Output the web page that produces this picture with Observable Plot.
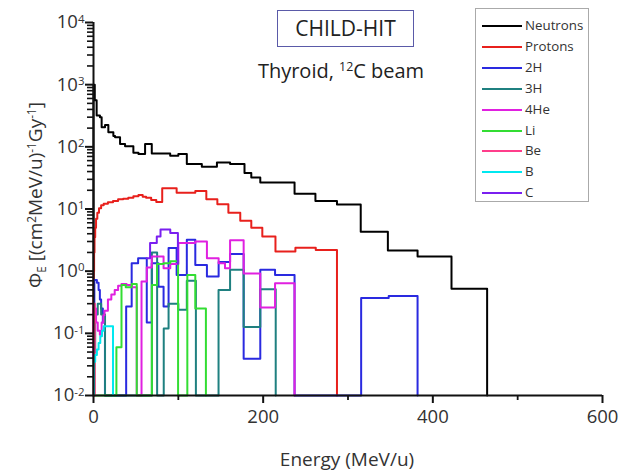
<!DOCTYPE html>
<html>
<head>
<meta charset="utf-8">
<script src="https://cdn.jsdelivr.net/npm/d3@7"></script>
<script src="https://cdn.jsdelivr.net/npm/@observablehq/plot@0.6"></script>
<style>
  html, body { margin: 0; padding: 0; background: #fff; }
  #wrap { position: relative; width: 628px; height: 472px; font-family: "Open Sans", sans-serif; color: #333; }
  #chart svg { display: block; }
  .ov { position: absolute; white-space: nowrap; }
  #titlebox { left: 277px; top: 10px; width: 135px; height: 35px; border: 1.5px solid #5a5aa8; font-size: 21px; line-height: 35px; text-align: center; color: #222; }
  #subtitle { left: 226px; top: 58px; width: 230px; text-align: center; font-size: 20px; line-height: 26px; color: #222; }
  #subtitle sup { font-size: 0.62em; vertical-align: 0.55em; line-height: 0; }
  #legend { left: 475px; top: 8px; width: 112px; height: 192px; border: 1px solid #aaa; background: #fff; }
  .lrow { position: absolute; left: 0; height: 16px; }
  .lline { position: absolute; left: 6px; width: 40px; height: 0; border-top: 2px solid #000; top: 8px; }
  .ltext { position: absolute; left: 49px; top: 0; font-size: 13.3px; line-height: 16px; color: #333; }
  #ylabel { left: 35px; top: 195px; transform: translate(-50%, -50%) rotate(-90deg); font-size: 19px; color: #333; }
  #ylabel sub { font-size: 0.62em; vertical-align: -0.3em; line-height: 0; }
  #ylabel sup { font-size: 0.62em; vertical-align: 0.55em; line-height: 0; }
  #xlabel { left: 247px; width: 200px; text-align: center; top: 446px; font-size: 19px; line-height: 26px; color: #333; }
</style>
</head>
<body>
<div id="wrap">
  <div id="chart"></div>
  <div id="titlebox" class="ov">CHILD-HIT</div>
  <div id="subtitle" class="ov">Thyroid, <sup>12</sup>C beam</div>
  <div id="legend" class="ov"></div>
  <div id="ylabel" class="ov">Φ<sub>E</sub> [(cm<sup>2</sup>MeV/u)<sup>-1</sup>Gy<sup>-1</sup>]</div>
  <div id="xlabel" class="ov">Energy (MeV/u)</div>
</div>
<script>
// ---- data (bin start energy in MeV/u, fluence value; step-after histograms) ----
const seriesNames = ["Neutrons", "Protons", "2H", "3H", "4He", "Li", "Be", "B", "C"];
const seriesColors = ["#000000", "#e8201c", "#2a2ae0", "#1f8080", "#e020e0", "#33dd33", "#ff3d8b", "#00e8f0", "#7a1ff0"];

const neutronsE = [0, 0, 1.5, 3.7, 7.6, 9.6, 13.6, 17.5, 23.4, 25.4, 31.3, 37.2, 47, 53, 60.8, 68.7, 90.4, 100, 110, 127.7, 145.5, 161, 178, 186, 196.6, 237, 261.6, 287, 315, 347, 382, 422, 464];
const neutronsV = [0.01, 1000, 560, 320, 300, 207, 225, 172, 150, 143, 111, 102, 80, 77, 111, 78, 72, 77, 53, 48, 56, 53, 38, 32, 26.6, 17.6, 13.4, 11.8, 4.3, 2.15, 1.72, 0.52, 0.01];

const protonsE = [0, 0, 0.3, 0.7, 1.2, 2, 3, 4.5, 6.5, 9, 12, 17, 23, 29, 35, 41, 47, 53, 58, 62, 68, 74, 81, 98, 120, 133, 146, 159, 173, 186, 199, 214.5, 238, 262, 287];
const protonsV = [0.01, 0.4, 1.0, 2.0, 3.5, 5.0, 7.0, 8.7, 10.3, 11.5, 12.2, 12.8, 13.5, 14.3, 14.6, 15.2, 16.0, 16.8, 15.8, 15.2, 14.0, 13.0, 21.6, 18.3, 19.5, 14.3, 11.9, 8.7, 6.5, 5.0, 3.6, 2.08, 2.38, 2.2, 0.01];

const h2E = [0, 0, 1, 4, 6, 7.5, 9, 11, 13.5, 38.5, 45, 52.6, 62.8, 68.7, 76.6, 82.6, 88.5, 98, 110, 120, 133.7, 147.5, 161, 177, 196.6, 214, 237, 315.5, 348, 382];
const h2V = [0.01, 0.06, 0.72, 0.65, 0.5, 0.35, 0.25, 0.15, 0.01, 0.27, 1.34, 1.62, 0.15, 1.34, 0.56, 0.27, 2.35, 0.87, 3.2, 1.26, 0.82, 1.4, 1.88, 0.039, 1.05, 0.87, 0.01, 0.37, 0.40, 0.01];

const h3E = [0.5, 0.5, 2, 5, 9, 13.6, 68.8, 75, 82.8, 88.5, 100, 110, 120.7, 147.4, 161, 177, 196.6, 214.8];
const h3V = [0.01, 0.05, 0.2, 0.3, 0.2, 0.01, 2.0, 0.01, 0.12, 0.3, 0.24, 0.7, 0.01, 0.5, 1.05, 0.126, 0.51, 0.01];

const he4E = [0, 0, 1, 3, 5, 7.5, 9.6, 11.6, 13, 17, 21, 25, 29, 33, 39, 45, 51, 56.6, 62.8, 68.7, 82.6, 90.5, 100, 120, 133.7, 147.5, 155, 161, 177, 196.6, 214, 237];
const he4V = [0.01, 0.3, 0.25, 0.15, 0.11, 0.095, 0.15, 0.195, 0.23, 0.35, 0.42, 0.5, 0.58, 0.62, 0.6, 0.55, 0.01, 0.68, 1.15, 1.72, 1.11, 1.3, 2.83, 3.0, 1.62, 1.34, 1.11, 3.13, 0.92, 0.26, 0.64, 0.01];

const liE = [0, 0, 1.2, 27, 33, 38, 45, 51, 68.8, 75, 82.6, 90.5, 99.7, 110.6, 120, 132.5];
const liV = [0.01, 0.04, 0.01, 0.06, 0.6, 0.55, 0.62, 0.01, 0.6, 1.3, 1.34, 1.45, 0.01, 0.87, 0.25, 0.01];

const beE = [0.3, 0.3, 0.8, 1.5];
const beV = [0.01, 0.12, 0.3, 0.01];

const bE = [0.5, 0.5, 2, 4, 6, 8, 10, 12, 23];
const bV = [0.01, 0.035, 0.045, 0.055, 0.07, 0.09, 0.11, 0.13, 0.01];

const cE = [62.8, 66.7, 74.6, 79, 90.5, 99.5];
const cV = [1.62, 2.84, 3.6, 4.7, 4.1, 1.3];

const xMajorTicks = [0, 200, 400, 600];
const xMinorTicks = [100, 300, 500];
const yMajorTicks = [0.01, 0.1, 1, 10, 100, 1000, 10000];
const yTickExponents = ["-2", "-1", "0", "1", "2", "3", "4"];

// ---- build ----
const seriesE = [neutronsE, protonsE, h2E, h3E, he4E, liE, beE, bE, cE];
const seriesV = [neutronsV, protonsV, h2V, h3V, he4V, liV, beV, bV, cV];
const rows = (E, V) => E.map((e, i) => ({E: e, v: V[i]}));

const yMinorTicks = [];
for (let k = -2; k < 4; k++) for (let m = 2; m <= 9; m++) yMinorTicks.push(m * Math.pow(10, k));

const lineMarks = seriesE.map((E, i) =>
  Plot.line(rows(E, seriesV[i]), {x: "E", y: "v", curve: "step-after", stroke: seriesColors[i], strokeWidth: 2})
);

const plot = Plot.plot({
  width: 628,
  height: 472,
  marginLeft: 93,
  marginRight: 26,
  marginTop: 22,
  marginBottom: 77,
  style: {fontFamily: "Open Sans, sans-serif", fontSize: "18.5px", color: "#333", background: "transparent"},
  x: {domain: [0, 600]},
  y: {type: "log", domain: [0.01, 10000]},
  marks: [
    ...lineMarks,
    Plot.ruleX([0], {stroke: "#111", strokeWidth: 2}),
    Plot.ruleY([0.01], {stroke: "#111", strokeWidth: 2}),
    Plot.ruleY(yMinorTicks, {x1: 0, x2: 0, insetLeft: -6, stroke: "#111", strokeWidth: 1.6}),
    Plot.ruleX(xMinorTicks, {y1: 0.01, y2: 0.01, insetBottom: -5, stroke: "#111", strokeWidth: 1.8}),
    Plot.axisX({ticks: xMajorTicks, tickSize: 8, tickPadding: 6, tickFormat: d => String(d), label: null, stroke: "#111", strokeWidth: 2}),
    Plot.axisY({ticks: yMajorTicks, tickSize: 8, tickPadding: 1, tickFormat: d => "10^" + yTickExponents[yMajorTicks.indexOf(d)], label: null, stroke: "#111", strokeWidth: 2})
  ]
});

// superscript exponents on the log tick labels
d3.select(plot).selectAll("text").each(function() {
  const t = this.textContent;
  if (!t || t.indexOf("^") < 0) return;
  const [base, exp] = t.split("^");
  const sel = d3.select(this);
  sel.text(null);
  sel.append("tspan").text(base);
  sel.append("tspan").attr("dy", "-0.5em").attr("font-size", "0.62em").text(exp);
});

document.getElementById("chart").appendChild(plot);

// legend
const legend = document.getElementById("legend");
seriesNames.forEach((name, i) => {
  const r = document.createElement("div");
  r.className = "lrow";
  r.style.top = (8 + i * 20.9) + "px";
  r.style.width = "110px";
  const l = document.createElement("div");
  l.className = "lline";
  l.style.borderTopColor = seriesColors[i];
  const t = document.createElement("div");
  t.className = "ltext";
  t.textContent = name;
  r.appendChild(l); r.appendChild(t);
  legend.appendChild(r);
});
</script>
</body>
</html>
